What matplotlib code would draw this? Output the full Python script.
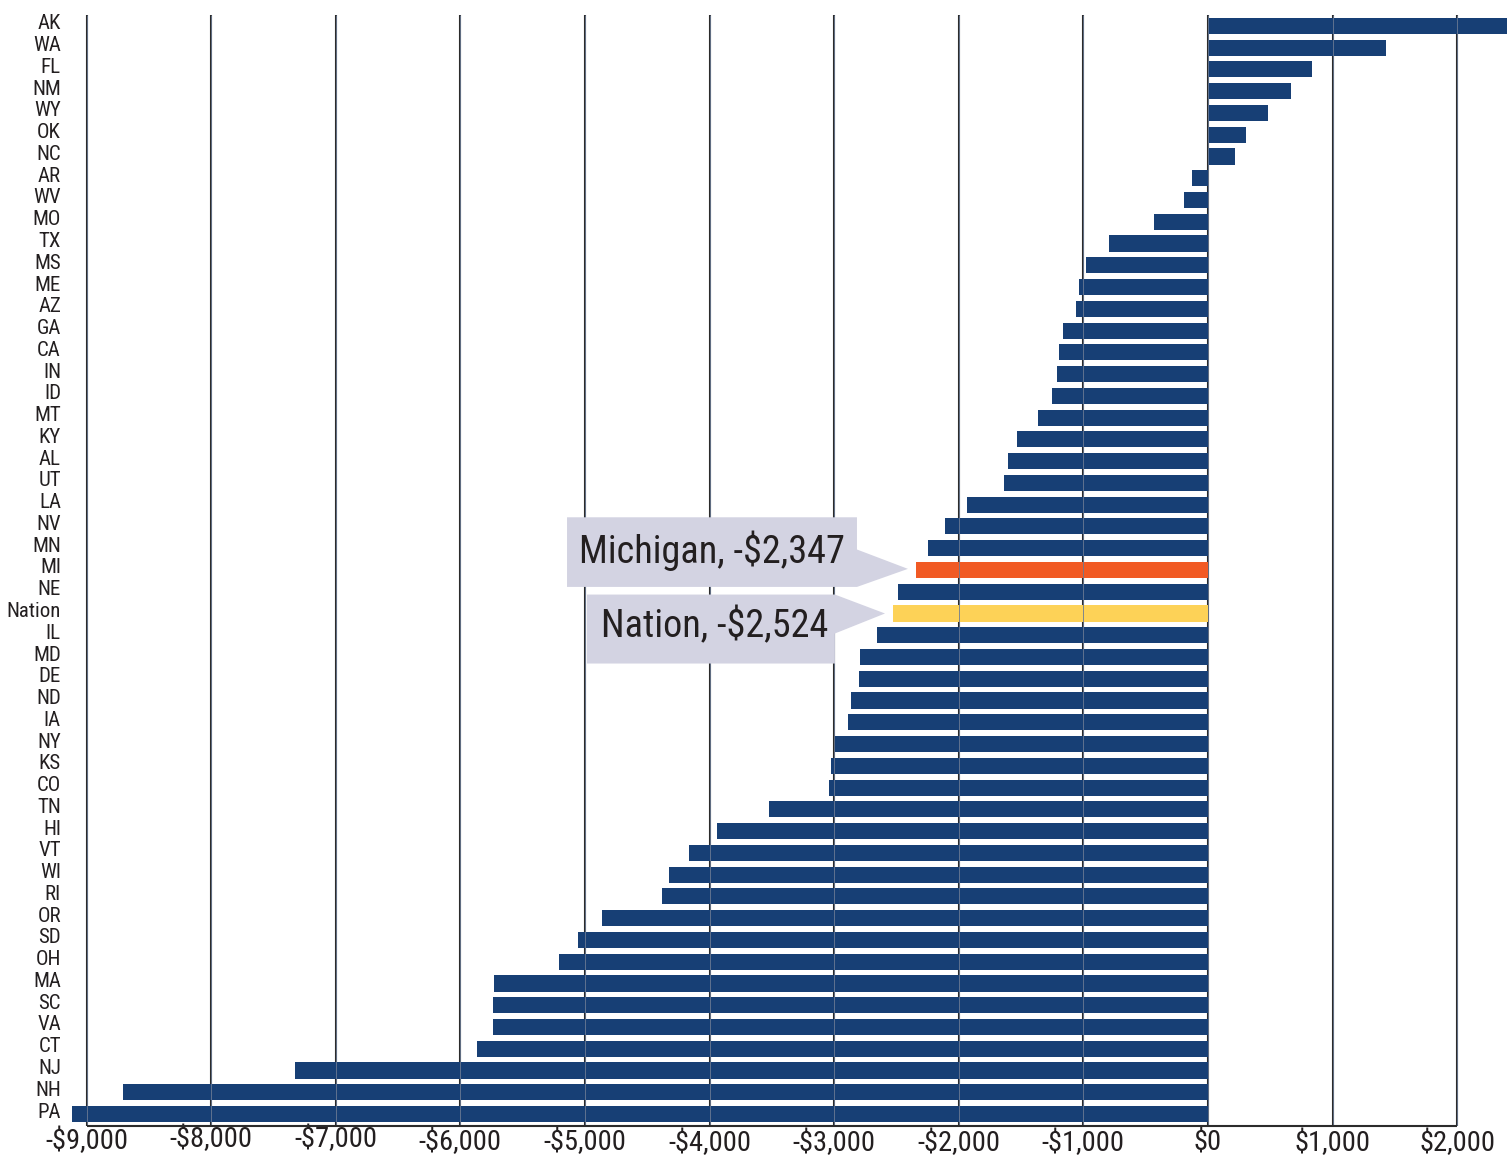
import matplotlib
matplotlib.use('Agg')
import matplotlib.pyplot as plt
from matplotlib.patches import Polygon
import matplotlib.transforms as mtransforms

states = ['AK', 'WA', 'FL', 'NM', 'WY', 'OK', 'NC', 'AR', 'WV', 'MO', 'TX', 'MS', 'ME',
          'AZ', 'GA', 'CA', 'IN', 'ID', 'MT', 'KY', 'AL', 'UT', 'LA', 'NV', 'MN', 'MI',
          'NE', 'Nation', 'IL', 'MD', 'DE', 'ND', 'IA', 'NY', 'KS', 'CO', 'TN', 'HI', 'VT',
          'WI', 'RI', 'OR', 'SD', 'OH', 'MA', 'SC', 'VA', 'CT', 'NJ', 'NH', 'PA']
values = [2600, 1430, 835, 666, 482, 305, 217, -128, -193, -433, -795, -982, -1035,
          -1059, -1164, -1196, -1212, -1252, -1364, -1533, -1605, -1637, -1934, -2111,
          -2247, -2347, -2488, -2524, -2656, -2793, -2801, -2865, -2889, -2997, -3026,
          -3042, -3523, -3941, -4165, -4326, -4382, -4864, -5056, -5209, -5730, -5738,
          -5738, -5867, -7327, -8708, -9117]
tick_values = [-9000, -8000, -7000, -6000, -5000, -4000, -3000, -2000, -1000, 0, 1000, 2000]
tick_labels = ['-$9,000', '-$8,000', '-$7,000', '-$6,000', '-$5,000', '-$4,000',
               '-$3,000', '-$2,000', '-$1,000', '$0', '$1,000', '$2,000']

NAVY = '#173F75'
ORANGE = '#F15A24'
YELLOW = '#FDD257'
BOX = '#D3D3E2'
GRID = '#2b2b2b'
TXT = '#231f20'
FONT = ['Roboto Condensed', 'Barlow Semi Condensed', 'DejaVu Sans']
plt.rcParams['font.family'] = FONT

W, H = 1507, 1160
fig = plt.figure(figsize=(W / 100, H / 100), dpi=100)
ax = fig.add_axes([70 / W, 1 - 1126 / H, (W - 70) / W, (1126 - 15) / H])

n = len(states)
colors = [ORANGE if s == 'MI' else YELLOW if s == 'Nation' else NAVY for s in states]
ypos = list(range(n))
ax.barh(ypos, values, height=0.74, color=colors, zorder=2)

ytop, ybot = -0.5, n - 0.45
ax.set_ylim(ybot, ytop)
ax.set_xlim(-9133, 2400)

ax.vlines(tick_values, ytop, ybot, color=GRID, lw=1.5, zorder=1)
ax.vlines(tick_values, ytop, ybot, color='#6b7a94', lw=0.6, zorder=3)
ax.hlines(ybot, tick_values[0], tick_values[-1], color=GRID, lw=1.5, zorder=3, clip_on=False)

for sp in ax.spines.values():
    sp.set_visible(False)

ax.set_yticks(ypos)
ax.set_yticklabels(states, fontsize=15, color=TXT)
ax.tick_params(axis='y', length=0, pad=6.5)
for lab in ax.get_yticklabels():
    lab.set_transform(lab.get_transform() + mtransforms.ScaledTranslation(0, 4 / 100, fig.dpi_scale_trans))

ax.set_xticks(tick_values)
ax.set_xticklabels(tick_labels, fontsize=20.5, color=TXT)
ax.tick_params(axis='x', length=0, pad=2)

offs = [1, 3, 3, 0, 0, -1, -1, -1, -1, -1, -1, -1]
for lab, d in zip(ax.get_xticklabels(), offs):
    lab.set_transform(lab.get_transform() + mtransforms.ScaledTranslation(0, d / 100, fig.dpi_scale_trans))

# annotation callouts
mi = states.index('MI')
na = states.index('Nation')
mi_poly = [(-5144, mi - 2.42), (-2817, mi - 2.42), (-2817, mi - 0.94), (-2408, mi - 0.05),
           (-2817, mi + 0.78), (-5144, mi + 0.78)]
na_poly = [(-4984, na - 0.87), (-2994, na - 0.87), (-2592, na), (-2994, na + 0.92),
           (-2994, na + 2.3), (-4984, na + 2.3)]
ax.add_patch(Polygon(mi_poly, closed=True, facecolor=BOX, edgecolor='none', zorder=4))
ax.add_patch(Polygon(na_poly, closed=True, facecolor=BOX, edgecolor='none', zorder=4))
ax.text(-5048, mi - 0.9, f"Michigan, -${abs(values[mi]):,}", fontsize=27.5,
        va='center', ha='left', color=TXT, zorder=5)
ax.text(-4872, na + 0.6, f"Nation, -${abs(values[na]):,}", fontsize=27.5,
        va='center', ha='left', color=TXT, zorder=5)

fig.savefig('out.png', dpi=100)
